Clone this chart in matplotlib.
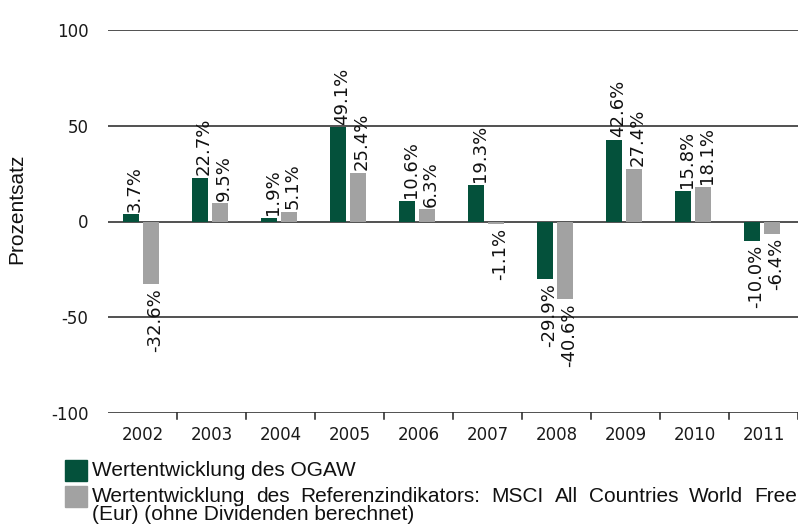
import numpy as np
import matplotlib
matplotlib.use("Agg")
import matplotlib.pyplot as plt

plt.rcParams["font.family"] = "DejaVu Sans"
plt.rcParams["axes.unicode_minus"] = False

years = ["2002", "2003", "2004", "2005", "2006", "2007", "2008", "2009", "2010", "2011"]
fund = [3.7, 22.7, 1.9, 49.1, 10.6, 19.3, -29.9, 42.6, 15.8, -10.0]
index = [-32.6, 9.5, 5.1, 25.4, 6.3, -1.1, -40.6, 27.4, 18.1, -6.4]
fund_label = "Wertentwicklung des OGAW"
index_label = "Wertentwicklung des Referenzindikators: MSCI All Countries World Free"
index_label2 = "(Eur) (ohne Dividenden berechnet)"

GREEN = "#04513b"
GREY = "#a2a2a2"

W, H = 798, 527
fig = plt.figure(figsize=(W / 100, H / 100), dpi=100)
ax = fig.add_axes([108 / W, 1 - 413 / H, 690 / W, 383 / H])

x = np.arange(len(years))
bw = 0.23
ax.bar(x - 0.17, fund, bw, color=GREEN, zorder=3)
ax.bar(x + 0.12, index, bw, color=GREY, zorder=3)

# value labels, rotated, just outside the bar end
for xs, vals in ((x - 0.17, fund), (x + 0.12, index)):
    for xi, v in zip(xs, vals):
        va = "bottom" if v >= 0 else "top"
        dy = 2 if v >= 0 else -3
        ax.annotate(f"{v:.1f}%", (xi, v), xytext=(3, dy), textcoords="offset points",
                    rotation=90, ha="center", va=va, fontsize=13,
                    color="#111111", zorder=4)

ax.set_xlim(-0.5, len(years) - 0.5)
ax.set_ylim(-100, 100)
ax.set_yticks([-100, -50, 0, 50, 100])
for yv in [-100, -50, 0, 50, 100]:
    ax.axhline(yv, color="#222222", lw=1.1, zorder=2)

for s in ax.spines.values():
    s.set_visible(False)

ax.tick_params(axis="y", length=0, pad=14, labelsize=12, labelcolor="#1a1a1a")
ax.set_xticks(x)
ax.set_xticklabels(years)
ax.tick_params(axis="x", length=0, pad=9, labelsize=12, labelcolor="#1a1a1a")
# category separator ticks below the bottom line
for b in np.arange(0.5, len(years), 1.0):
    ax.plot([b, b], [-100, -103], color="#222222", lw=1.1, clip_on=False, zorder=2)

fig.text(17 / W, 1 - 209 / H, "Prozentsatz", rotation=90, ha="center", va="center",
         fontsize=15, family="Liberation Sans", color="#111111")

# legend
fig.patches.append(plt.Rectangle((65 / W, 1 - 481 / H), 22 / W, 21 / H,
                                 transform=fig.transFigure, color=GREEN))
fig.patches.append(plt.Rectangle((65 / W, 1 - 507 / H), 22 / W, 21 / H,
                                 transform=fig.transFigure, color=GREY))
leg_kw = dict(ha="left", va="center", fontsize=15, family="Liberation Sans", color="#111111")
fig.text(92 / W, 1 - 470 / H, fund_label, **leg_kw)
fig.text(92 / W, 1 - 515 / H, index_label2, **leg_kw)

# justified line: spread the words between x=92 and x=797 px
renderer = fig.canvas.get_renderer()
words = index_label.split()
texts = [fig.text(0, 1 - 496 / H, w_, **leg_kw) for w_ in words]
widths = [t.get_window_extent(renderer).width for t in texts]
gap = (797 - 92 - sum(widths)) / (len(words) - 1)
pos = 92
for t, wd in zip(texts, widths):
    t.set_x(pos / W)
    pos += wd + gap

fig.savefig("out.png", dpi=100)
